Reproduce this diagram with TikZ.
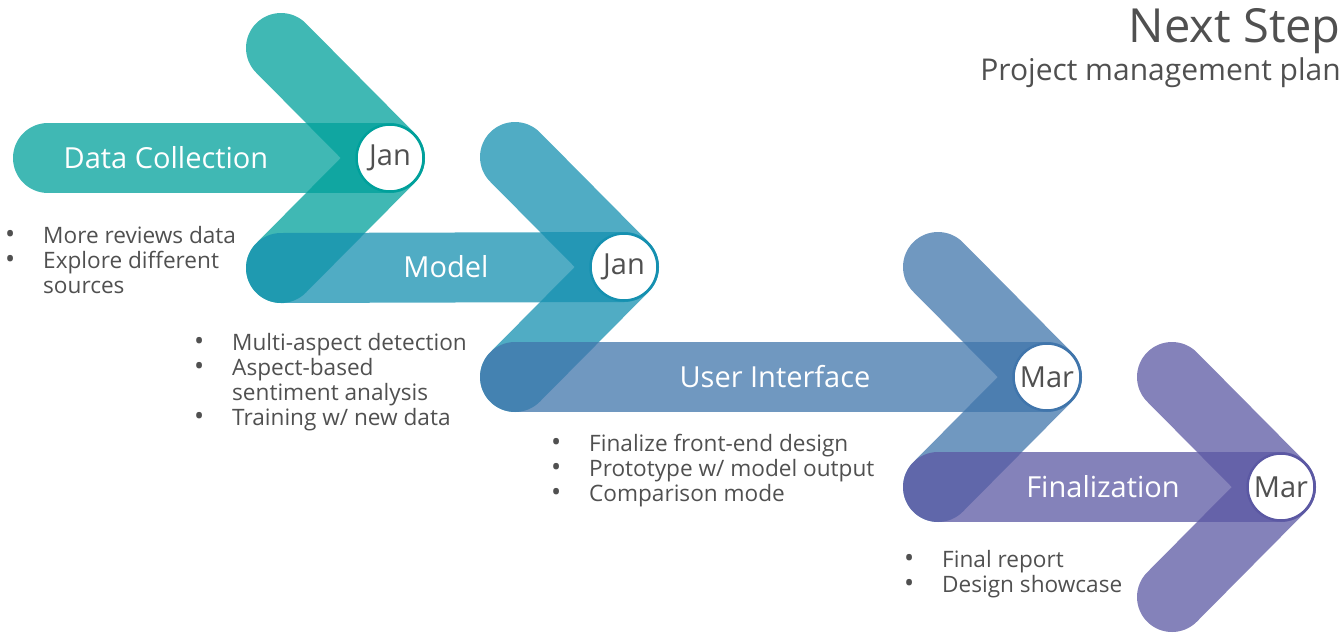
\documentclass[tikz,border=0pt]{standalone}
\usepackage{fontspec}
\setmainfont{Open Sans}
\usetikzlibrary{calc}

% stage colours (drawn at 75% opacity)
\definecolor{stageone}{RGB}{0,160,155}
\definecolor{stagetwo}{RGB}{21,144,176}
\definecolor{stagethree}{RGB}{64,117,171}
\definecolor{stagefour}{RGB}{91,88,163}
\definecolor{textgray}{RGB}{80,80,80}

\tikzset{
  arm/.style={line width=70pt, line cap=round, line join=round, draw opacity=0.75},
  month/.style={circle, fill=white, line width=2.5pt, minimum size=67pt, inner sep=0pt,
    text=textgray, font=\fontsize{29}{35}\selectfont},
  barlabel/.style={anchor=base, text=white, font=\fontsize{29}{35}\selectfont},
  bullets/.style={anchor=base west, inner sep=0pt, text=textgray, font=\fontsize{22.6}{25}\selectfont},
}
\newcommand{\dotmark}{\makebox[38pt][l]{\fontsize{27}{25}\selectfont•}}
\newcommand{\nomark}{\makebox[38pt][l]{}}

\begin{document}
\begin{tikzpicture}[x=1pt,y=-1pt]

    % --- Canvas ---
    \useasboundingbox (0,0) rectangle (1342,633);

    % --- Coordinates ---
    % T = top end of the chevron, V = tip of the chevron, B = bottom end
    % L = left end of the bar (sits on the previous chevron's bottom end)
    \coordinate (T1) at (281,48);   \coordinate (V1) at (390,158);
    \coordinate (B1) at (281,268);  \coordinate (L1) at (48,158);
    \coordinate (T2) at (515,157);  \coordinate (V2) at (624,267);
    \coordinate (B2) at (515,377);
    \coordinate (T3) at (938,267);  \coordinate (V3) at (1047,377);
    \coordinate (B3) at (938,487);
    \coordinate (T4) at (1172,377); \coordinate (V4) at (1281,487);
    \coordinate (B4) at (1172,597);

    % --- Stage 1: Data Collection ---
    \draw[arm, stageone] (T1) -- (V1) -- (B1);
    \draw[arm, stageone] (L1) -- (V1);
    \node[month, draw=stageone] (jan1) at (V1) {Jan};
    \node[barlabel] (collect) at (166,168) {Data Collection};

    % --- Stage 2: Model ---
    \draw[arm, stagetwo] (T2) -- (V2) -- (B2);
    \draw[arm, stagetwo] (B1) -- (V2);
    \node[month, draw=stagetwo] (jan2) at (V2) {Jan};
    \node[barlabel] (model) at (446,277) {Model};

    % --- Stage 3: User Interface ---
    \draw[arm, stagethree] (T3) -- (V3) -- (B3);
    \draw[arm, stagethree] (B2) -- (V3);
    \node[month, draw=stagethree] (mar1) at (V3) {Mar};
    \node[barlabel] (ui) at (775,387) {User Interface};

    % --- Stage 4: Finalization ---
    \draw[arm, stagefour] (T4) -- (V4) -- (B4);
    \draw[arm, stagefour] (B3) -- (V4);
    \node[month, draw=stagefour] (mar2) at (V4) {Mar};
    \node[barlabel] (final) at (1103,497) {Finalization};

    % --- Task lists ---
    \node[bullets] (tasks1) at (5,243) {\begin{tabular}[t]{@{}l@{}}
      \dotmark More reviews data\\
      \dotmark Explore different\\
      \nomark sources
    \end{tabular}};
    \node[bullets] (tasks2) at (194,350) {\begin{tabular}[t]{@{}l@{}}
      \dotmark Multi-aspect detection\\
      \dotmark Aspect-based\\
      \nomark sentiment analysis\\
      \dotmark Training w/ new data
    \end{tabular}};
    \node[bullets] (tasks3) at (551,451) {\begin{tabular}[t]{@{}l@{}}
      \dotmark Finalize front-end design\\
      \dotmark Prototype w/ model output\\
      \dotmark Comparison mode
    \end{tabular}};
    \node[bullets] (tasks4) at (904,567) {\begin{tabular}[t]{@{}l@{}}
      \dotmark Final report\\
      \dotmark Design showcase
    \end{tabular}};

    % --- Title ---
    \node[anchor=base east, inner sep=0pt, text=textgray, font=\fontsize{47}{54}\selectfont]
      (title) at (1341,42) {Next Step};
    \node[anchor=base east, inner sep=0pt, text=textgray, font=\fontsize{30}{36}\selectfont]
      (subtitle) at (1341,80) {Project management plan};

\end{tikzpicture}
\end{document}
